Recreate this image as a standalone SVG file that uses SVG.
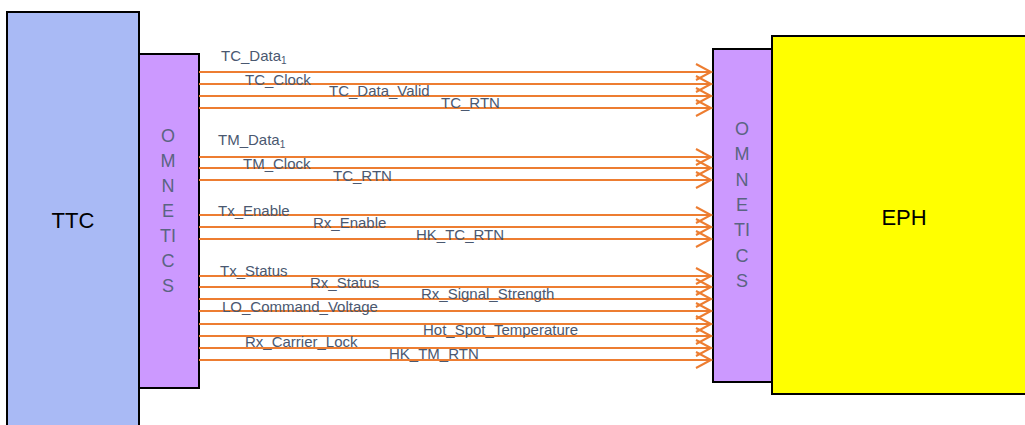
<svg xmlns="http://www.w3.org/2000/svg" width="1025" height="425" viewBox="0 0 1025 425">
<style>
.box{stroke:#000;stroke-width:2}
.ttc{fill:#a9baf5}
.omn{fill:#cc99ff}
.eph{fill:#ffff00}
.big{font-family:"Liberation Sans",Arial,sans-serif;font-size:22px;fill:#000;text-anchor:middle}
.ol{font-family:"Liberation Sans",Arial,sans-serif;font-size:18px;fill:#5a6482;text-anchor:middle}
.lbl{font-family:"Liberation Sans",Arial,sans-serif;font-size:15px;fill:#4a5870}
.sig{stroke:#ed7d31;stroke-width:2;fill:none;marker-end:url(#arr)}
</style>
<defs>
<marker id="arr" markerUnits="userSpaceOnUse" markerWidth="20" markerHeight="20" refX="16" refY="9" orient="auto" overflow="visible">
<path d="M1,1 L16,9 L1,17" fill="none" stroke="#ed7d31" stroke-width="2"/>
</marker>
</defs>
<rect width="1025" height="425" fill="#fff"/>
<g id="ttc">
<rect class="box ttc" x="7" y="12" width="132" height="430"/>
<text class="big" x="73" y="228">TTC</text>
</g>
<g id="omnetics-left">
<rect class="box omn" x="139" y="54" width="60" height="334"/>
<text class="ol" x="168" y="142">O</text>
<text class="ol" x="168" y="167">M</text>
<text class="ol" x="168" y="192">N</text>
<text class="ol" x="168" y="217">E</text>
<text class="ol" x="168" y="242">TI</text>
<text class="ol" x="168" y="267">C</text>
<text class="ol" x="168" y="292">S</text>
</g>
<g id="eph">
<rect class="box eph" x="772" y="36" width="260" height="358"/>
<text class="big" x="904" y="225">EPH</text>
</g>
<g id="omnetics-right">
<rect class="box omn" x="713" y="49" width="59" height="333"/>
<text class="ol" x="742" y="135">O</text>
<text class="ol" x="742" y="160">M</text>
<text class="ol" x="742" y="186">N</text>
<text class="ol" x="742" y="211">E</text>
<text class="ol" x="742" y="236">TI</text>
<text class="ol" x="742" y="262">C</text>
<text class="ol" x="742" y="287">S</text>
</g>
<g id="connectors">
<line class="sig" x1="199" y1="72" x2="711" y2="72"/>
<line class="sig" x1="199" y1="84" x2="711" y2="84"/>
<line class="sig" x1="199" y1="96" x2="711" y2="96"/>
<line class="sig" x1="199" y1="108" x2="711" y2="108"/>
<line class="sig" x1="199" y1="157" x2="711" y2="157"/>
<line class="sig" x1="199" y1="168" x2="711" y2="168"/>
<line class="sig" x1="199" y1="180" x2="711" y2="180"/>
<line class="sig" x1="199" y1="215" x2="711" y2="215"/>
<line class="sig" x1="199" y1="227" x2="711" y2="227"/>
<line class="sig" x1="199" y1="239" x2="711" y2="239"/>
<line class="sig" x1="199" y1="276" x2="711" y2="276"/>
<line class="sig" x1="199" y1="287" x2="711" y2="287"/>
<line class="sig" x1="199" y1="299" x2="711" y2="299"/>
<line class="sig" x1="199" y1="311" x2="711" y2="311"/>
<line class="sig" x1="199" y1="324" x2="711" y2="324"/>
<line class="sig" x1="199" y1="336" x2="711" y2="336"/>
<line class="sig" x1="199" y1="348" x2="711" y2="348"/>
<line class="sig" x1="199" y1="360" x2="711" y2="360"/>
</g>
<g id="labels">
<text class="lbl" x="221" y="61">TC_Data<tspan font-size="10" dy="3">1</tspan></text>
<text class="lbl" x="245" y="85">TC_Clock</text>
<text class="lbl" x="329" y="96">TC_Data_Valid</text>
<text class="lbl" x="441" y="108">TC_RTN</text>
<text class="lbl" x="218" y="145">TM_Data<tspan font-size="10" dy="3">1</tspan></text>
<text class="lbl" x="243" y="169">TM_Clock</text>
<text class="lbl" x="333" y="181">TC_RTN</text>
<text class="lbl" x="218" y="216">Tx_Enable</text>
<text class="lbl" x="313" y="228">Rx_Enable</text>
<text class="lbl" x="416" y="240">HK_TC_RTN</text>
<text class="lbl" x="220" y="276">Tx_Status</text>
<text class="lbl" x="310" y="288">Rx_Status</text>
<text class="lbl" x="421" y="299">Rx_Signal_Strength</text>
<text class="lbl" x="222" y="312">LO_Command_Voltage</text>
<text class="lbl" x="423" y="335">Hot_Spot_Temperature</text>
<text class="lbl" x="245" y="347">Rx_Carrier_Lock</text>
<text class="lbl" x="389" y="359">HK_TM_RTN</text>
</g>
</svg>
